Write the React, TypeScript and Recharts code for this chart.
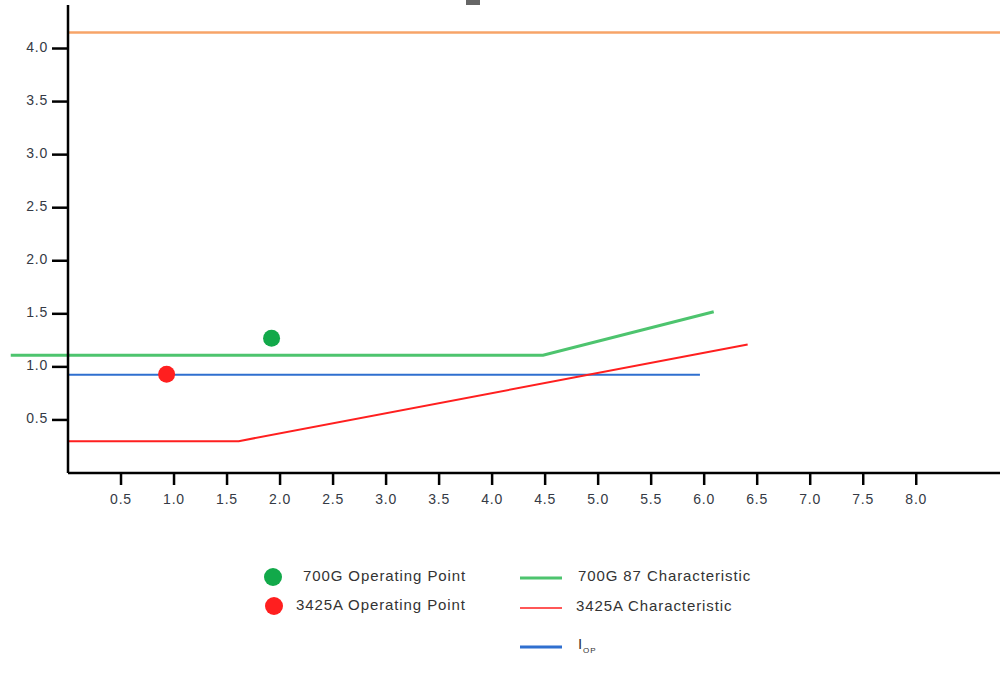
import React from 'react';
import { ComposedChart, Line, Scatter, XAxis, YAxis, ReferenceLine } from 'recharts';

const xTicks = [0.5, 1.0, 1.5, 2.0, 2.5, 3.0, 3.5, 4.0, 4.5, 5.0, 5.5, 6.0, 6.5, 7.0, 7.5, 8.0];
const yTicks = [0.5, 1.0, 1.5, 2.0, 2.5, 3.0, 3.5, 4.0];
const xDomain = [0, 8.79];
const yDomain = [0, 4.41];

const greenCharX = [0, 4.48, 6.09];
const greenCharY = [1.11, 1.11, 1.52];
const greenLeadX = [-0.54, 0];
const redCharX = [0, 1.61, 6.41];
const redCharY = [0.3, 0.3, 1.21];
const iopX = [0, 5.96];
const iopY = [0.925, 0.925];
const limitX = [0, 8.79];
const limitY = [4.15, 4.15];

const greenPoint = [{ x: 1.92, y: 1.27 }];
const redPoint = [{ x: 0.93, y: 0.93 }];

const pointLegend = ['700G Operating Point', '3425A Operating Point'];
const lineLegend = ['700G 87 Characteristic', '3425A Characteristic'];

const zip = (xs: number[], ys: number[]) => xs.map((x, i) => ({ x, y: ys[i] }));

const C_GREEN_LINE = '#4dc46e';
const C_GREEN_PT = '#12a94a';
const C_RED = '#ff1f1f';
const C_BLUE = '#2f6fcf';
const C_ORANGE = '#f7a468';
const FONT = '"Liberation Sans", Arial, sans-serif';

const XTick = (props: any) => {
  const { x, y, payload } = props;
  return (
    <text x={x} y={y + 17} textAnchor="middle" fontFamily={FONT} fontSize={14} letterSpacing={0.8} fill="#353a45">
      {payload.value.toFixed(1)}
    </text>
  );
};

const YTick = (props: any) => {
  const { x, y, payload } = props;
  return (
    <text x={x} y={y + 3} textAnchor="end" fontFamily={FONT} fontSize={14} letterSpacing={0.8} fill="#353a45">
      {payload.value.toFixed(1)}
    </text>
  );
};

const Dot = (color: string) => (props: any) => <circle cx={props.cx} cy={props.cy} r={8.5} fill={color} />;

export default function App() {
  const legendText: React.CSSProperties = {
    position: 'absolute',
    fontFamily: FONT,
    fontSize: 15,
    color: '#333',
    letterSpacing: 0.9,
    whiteSpace: 'nowrap',
  };
  return (
    <div style={{ position: 'absolute', left: 0, top: 0, width: 1000, height: 676, background: '#fff' }}>
      <div style={{ position: 'absolute', left: 466, top: 0, width: 14, height: 5, background: '#666' }} />
      <ComposedChart width={1000} height={676} margin={{ top: 5, right: 0, left: 0, bottom: 173 }}>
        <XAxis
          type="number"
          dataKey="x"
          domain={xDomain}
          ticks={xTicks}
          allowDataOverflow
          height={30}
          tickSize={12}
          tick={<XTick />}
          axisLine={{ stroke: '#000', strokeWidth: 2.5 }}
          tickLine={{ stroke: '#000', strokeWidth: 2.5 }}
        />
        <YAxis
          type="number"
          dataKey="y"
          domain={yDomain}
          ticks={yTicks}
          allowDataOverflow
          width={68}
          tickSize={16}
          tickMargin={4}
          tick={<YTick />}
          axisLine={{ stroke: '#000', strokeWidth: 2.5 }}
          tickLine={{ stroke: '#000', strokeWidth: 2.5 }}
        />
        <Line data={zip(limitX, limitY)} dataKey="y" stroke={C_ORANGE} strokeWidth={2.5} dot={false} isAnimationActive={false} />
        <Line data={zip(iopX, iopY)} dataKey="y" stroke={C_BLUE} strokeWidth={2} dot={false} isAnimationActive={false} />
        <Line data={zip(redCharX, redCharY)} dataKey="y" stroke={C_RED} strokeWidth={2} dot={false} isAnimationActive={false} />
        <Line data={zip(greenCharX, greenCharY)} dataKey="y" stroke={C_GREEN_LINE} strokeWidth={3} dot={false} isAnimationActive={false} />
        <ReferenceLine
          segment={zip(greenLeadX, [greenCharY[0], greenCharY[0]])}
          stroke={C_GREEN_LINE}
          strokeWidth={3}
          ifOverflow="visible"
        />
        <Scatter data={greenPoint} fill={C_GREEN_PT} shape={Dot(C_GREEN_PT)} isAnimationActive={false} />
        <Scatter data={redPoint} fill={C_RED} shape={Dot(C_RED)} isAnimationActive={false} />
      </ComposedChart>
      {/* legend */}
      <svg style={{ position: 'absolute', left: 0, top: 0 }} width={1000} height={676}>
        <circle cx={273} cy={577} r={9} fill={C_GREEN_PT} />
        <circle cx={274} cy={606} r={9} fill={C_RED} />
        <line x1={520} x2={562} y1={578} y2={578} stroke={C_GREEN_LINE} strokeWidth={3} />
        <line x1={520} x2={562} y1={608} y2={608} stroke={C_RED} strokeWidth={1.5} />
        <line x1={520} x2={562} y1={647} y2={647} stroke={C_BLUE} strokeWidth={3} />
      </svg>
      <div style={{ ...legendText, left: 303, top: 567 }}>{pointLegend[0]}</div>
      <div style={{ ...legendText, left: 296, top: 596 }}>{pointLegend[1]}</div>
      <div style={{ ...legendText, left: 578, top: 567 }}>{lineLegend[0]}</div>
      <div style={{ ...legendText, left: 576, top: 597 }}>{lineLegend[1]}</div>
      <div style={{ ...legendText, left: 578, top: 635 }}>
        I<sub style={{ fontSize: 8 }}>OP</sub>
      </div>
    </div>
  );
}
